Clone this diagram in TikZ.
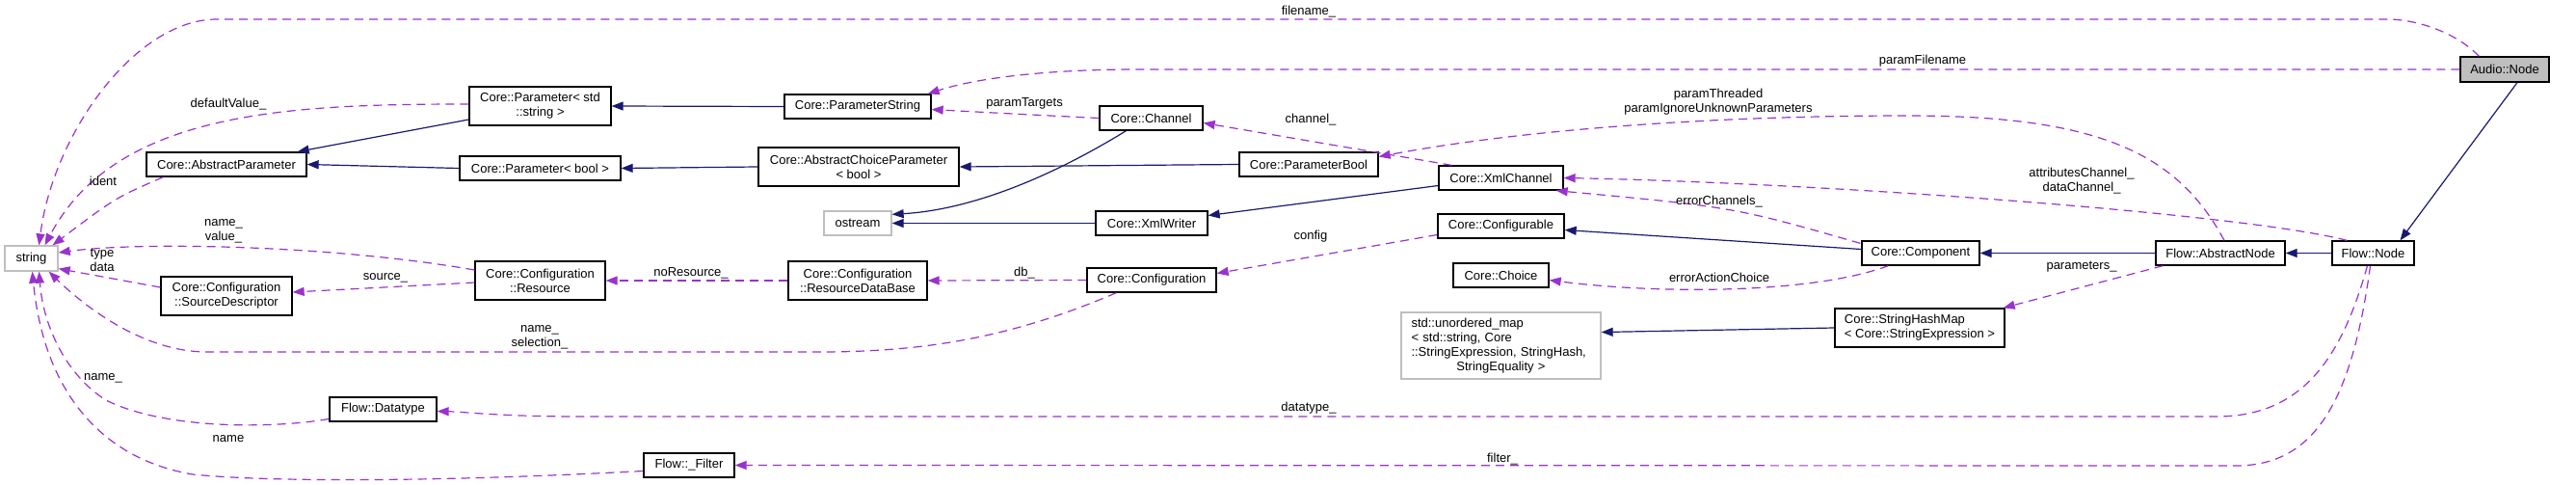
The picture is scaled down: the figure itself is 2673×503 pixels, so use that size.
\documentclass[tikz,border=0pt]{standalone}
\usepackage{fontspec}
\setmainfont{Liberation Sans}
\usetikzlibrary{arrows.meta,calc}
\definecolor{dxblue}{HTML}{191970}
\definecolor{dxpurple}{HTML}{9A32CD}
\definecolor{dxgray}{HTML}{BFBFBF}

\begin{document}
\begin{tikzpicture}[x=1pt,y=-1pt,
    cls/.style={draw=black,line width=1.3pt,fill=white,align=center,
                font=\fontsize{13}{15}\selectfont,minimum height=25pt,inner sep=2pt},
    ext/.style={cls,draw=dxgray},
    inh/.style={draw=dxblue,line width=1.2pt,-{Triangle[length=12pt,width=9pt]}},
    use/.style={draw=dxpurple,line width=1.2pt,dash pattern=on 9pt off 6pt,
                -{Triangle[length=12pt,width=9pt]}},
    lbl/.style={font=\fontsize{13}{15}\selectfont,align=center,inner sep=0pt}]
  \useasboundingbox (0,0) rectangle (2673,503);

  %% Classes, left to right
  \node[ext,minimum width=55pt,minimum height=26pt] (string) at (32.5,268) {string};
  \node[cls,minimum width=166pt] (absparam) at (235,170.5) {Core::AbstractParameter};
  \node[cls,minimum width=136pt,minimum height=40pt] (srcdesc) at (235,307)
        {Core::Configuration\\::SourceDescriptor};
  \node[cls,minimum width=111pt] (datatype) at (397.5,424.5) {Flow::Datatype};
  \node[cls,minimum width=147pt,minimum height=40pt] (pstr) at (560.5,110)
        {Core::Parameter< std\\::string >};
  \node[cls,minimum width=167pt] (pbool) at (560.5,174.5) {Core::Parameter< bool >};
  \node[cls,minimum width=135pt,minimum height=40pt] (resource) at (560.5,291)
        {Core::Configuration\\::Resource};
  \node[cls,minimum width=94pt] (filter) at (715,482.5) {Flow::\_Filter};
  \node[cls,minimum width=152pt] (paramstr) at (890,110.5) {Core::ParameterString};
  \node[cls,minimum width=208pt,minimum height=40pt] (abschoice) at (891,173)
        {Core::AbstractChoiceParameter\\< bool >};
  \node[ext,minimum width=70pt] (ostream) at (890,231.5) {ostream};
  \node[cls,minimum width=144pt,minimum height=40pt] (resdb) at (890,291)
        {Core::Configuration\\::ResourceDataBase};
  \node[cls,minimum width=107pt] (channel) at (1194.5,122.5) {Core::Channel};
  \node[cls,minimum width=116pt] (xmlwriter) at (1195,231.5) {Core::XmlWriter};
  \node[cls,minimum width=134pt] (config) at (1195,290.5) {Core::Configuration};
  \node[cls,minimum width=144pt] (parambool) at (1358,170.5) {Core::ParameterBool};
  \node[cls,minimum width=129pt] (xmlchannel) at (1557.5,184.5) {Core::XmlChannel};
  \node[cls,minimum width=131pt] (configurable) at (1557.5,234.5) {Core::Configurable};
  \node[cls,minimum width=99pt] (choice) at (1557.5,285.5) {Core::Choice};
  \node[ext,text width=186pt,inner xsep=10.5pt,align=left,minimum height=69pt] (umap)
        at (1557.5,358.5)
        {std::unordered\_map\\< std::string, Core\\::StringExpression, StringHash,\\
         \makebox[186pt][c]{StringEquality >}};
  \node[cls,minimum width=122pt] (component) at (1993,262.5) {Core::Component};
  \node[cls,minimum width=176pt,minimum height=40pt,align=left] (strhash) at (1992,340)
        {Core::StringHashMap\\< Core::StringExpression >};
  \node[cls,minimum width=134pt] (absnode) at (2304,262.5) {Flow::AbstractNode};
  \node[cls,minimum width=85pt] (flownode) at (2462.5,262.5) {Flow::Node};
  \node[cls,fill=dxgray,minimum width=92pt,minimum height=26pt] (audio) at (2599,72)
        {Audio::Node};

  %% Inheritance
  \draw[inh] ($(pstr.west)+(0,14)$) -- ($(absparam.north east)+(-10,0)$);
  \draw[inh] (pbool.west) -- (absparam.east);
  \draw[inh] (paramstr.west) -- (pstr.east);
  \draw[inh] (abschoice.west) -- (pbool.east);
  \draw[inh] (parambool.west) -- (abschoice.east);
  \draw[inh] ($(channel.south)+(-26,0)$) .. controls (1080,190) and (1000,218)
        .. ($(ostream.north east)+(0,4)$);
  \draw[inh] (xmlwriter.west) -- (ostream.east);
  \draw[inh] ($(xmlchannel.west)+(0,8)$) -- ($(xmlwriter.east)+(0,-8)$);
  \draw[inh] ($(component.west)+(0,-4)$) -- ($(configurable.east)+(0,4)$);
  \draw[inh] (absnode.west) -- (component.east);
  \draw[inh] (flownode.west) -- (absnode.east);
  \draw[inh] ($(audio.south)+(13,0)$) -- ($(flownode.north)+(28,0)$);
  \draw[inh] (strhash.west) -- ($(umap.east)+(0,-14)$);

  %% Usage
  \draw[use] ($(audio.north west)+(20,0)$) .. controls (2550,35) and (2510,20) .. (2477,20)
        -- (225,20) .. controls (140,20) and (55,140) .. ($(string.north)+(8,0)$);
  \draw[use] (audio.west) -- (1180,72) .. controls (1080,72) and (1010,82)
        .. ($(paramstr.north east)+(-4,0)$);
  \draw[use] ($(pstr.west)+(0,-2)$) .. controls (300,108) and (120,115)
        .. ($(string.north)+(14,0)$);
  \draw[use] ($(absparam.south west)+(18,0)$) .. controls (120,205) .. ($(string.north)+(22,0)$);
  \draw[use] ($(resource.west)+(0,-11)$) .. controls (350,255) and (150,250)
        .. ($(string.east)+(0,-6)$);
  \draw[use] ($(srcdesc.west)+(0,-9)$) -- ($(string.south east)+(0,-3)$);
  \draw[use] ($(config.south west)+(31,0)$) .. controls (1050,350) and (960,365) .. (850,365)
        -- (215,365) .. controls (150,365) and (90,320) .. ($(string.south east)+(-10,0)$);
  \draw[use] ($(datatype.west)+(0,10)$) .. controls (280,445) and (170,445) .. (110,415)
        .. controls (70,390) and (45,340) .. ($(string.south)+(8,0)$);
  \draw[use] ($(filter.west)+(0,6)$) .. controls (450,500) and (280,500) .. (200,492)
        .. controls (100,475) and (45,400) .. ($(string.south)+(1,0)$);
  \draw[use] ($(resource.west)+(0,2)$) -- ($(srcdesc.east)+(0,-4)$);
  \draw[use] (resdb.west) -- (resource.east);
  \draw[use] (config.west) -- (resdb.east);
  \draw[use] (channel.west) .. controls (1050,118) .. ($(paramstr.east)+(0,3)$);
  \draw[use] ($(xmlchannel.north west)+(14,0)$) -- ($(channel.east)+(0,5)$);
  \draw[use] ($(absnode.north)+(4,0)$) .. controls (2260,160) and (2180,120) .. (1980,120)
        .. controls (1750,120) and (1560,138) .. ($(parambool.east)+(0,-8)$);
  \draw[use] ($(flownode.north west)+(16,0)$) .. controls (2330,222) and (1900,190)
        .. (xmlchannel.east);
  \draw[use] ($(component.north west)+(-1,3)$) .. controls (1800,215) .. ($(xmlchannel.south east)+(-8,0)$);
  \draw[use] ($(configurable.west)+(0,9)$) -- ($(config.east)+(0,-7)$);
  \draw[use] ($(component.south west)+(28,0)$) .. controls (1880,305) and (1720,305)
        .. ($(choice.east)+(0,5)$);
  \draw[use] ($(absnode.south west)+(8,0)$) -- ($(strhash.north east)+(-2,0)$);
  \draw[use] ($(flownode.south)+(-6,0)$) .. controls (2430,370) and (2390,432) .. (2300,432)
        -- (600,432) .. controls (520,432) and (480,427) .. ($(datatype.east)+(0,2)$);
  \draw[use] ($(flownode.south)+(-3,0)$) .. controls (2440,420) and (2400,483) .. (2320,483)
        -- (filter.east);

  %% Member labels
  \node[lbl] (l_filename) at (1358,12) {filename\_};
  \node[lbl] (l_pfile) at (1995,63) {paramFilename};
  \node[lbl] (l_defval) at (237,108) {defaultValue\_};
  \node[lbl] (l_ident) at (107,188) {ident};
  \node[lbl] (l_namevalue) at (232,240) {name\_\\value\_};
  \node[lbl] (l_typedata) at (106,270) {type\\data};
  \node[lbl] (l_source) at (400,288) {source\_};
  \node[lbl] (l_nores) at (717,283) {noResource\_};
  \node[lbl] (l_db) at (1063,283) {db\_};
  \node[lbl] (l_namesel) at (560,350) {name\_\\selection\_};
  \node[lbl] (l_dtname) at (107,392) {name\_};
  \node[lbl] (l_fname) at (237,455) {name};
  \node[lbl] (l_targets) at (1063,107) {paramTargets};
  \node[lbl] (l_channel) at (1360,124) {channel\_};
  \node[lbl] (l_threaded) at (1783,106) {paramThreaded\\paramIgnoreUnknownParameters};
  \node[lbl] (l_attrdata) at (2160,188) {attributesChannel\_\\dataChannel\_};
  \node[lbl] (l_errch) at (1784,209) {errorChannels\_};
  \node[lbl] (l_config) at (1360,245) {config};
  \node[lbl] (l_erract) at (1784,288) {errorActionChoice};
  \node[lbl] (l_params) at (2160,277) {parameters\_};
  \node[lbl] (l_datatype) at (1358,423) {datatype\_};
  \node[lbl] (l_filter) at (1559,476) {filter\_};
\end{tikzpicture}
\end{document}
